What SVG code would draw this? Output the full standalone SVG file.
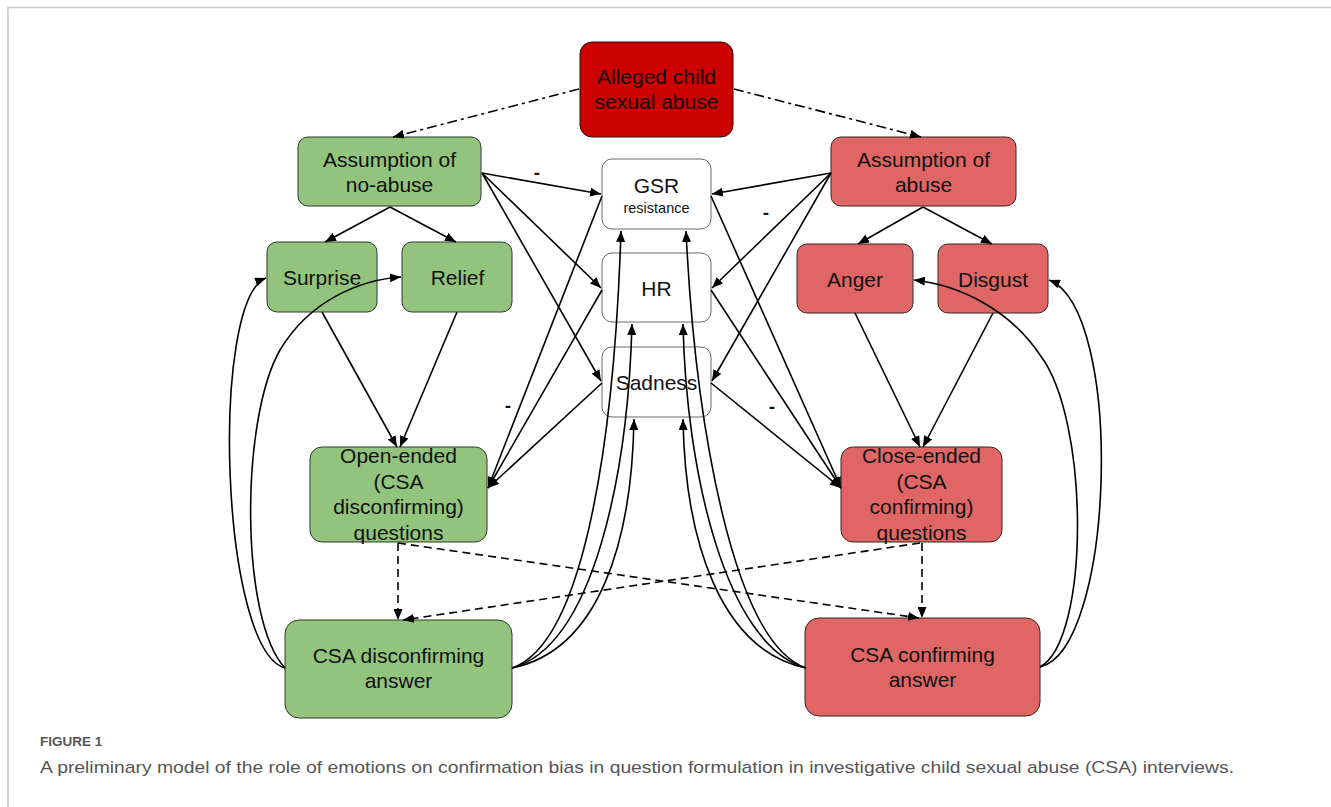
<svg xmlns="http://www.w3.org/2000/svg" width="1331" height="807" viewBox="0 0 1331 807">
<style>
.t{font-family:"Liberation Sans",Arial,sans-serif;font-size:21px;fill:#111;text-anchor:middle}
.s{font-size:14.5px}
.g{fill:#93C47D;stroke:#2f3a2a;stroke-width:1}
.r{fill:#E06666;stroke:#3a2424;stroke-width:1}
.d{fill:#CC0000;stroke:#2a1010;stroke-width:1}
.w{fill:#fff;stroke:#6a6a6a;stroke-width:1}
.e path{fill:none;stroke:#000;stroke-width:1.6;marker-end:url(#ah)}
.e .dash{stroke-dasharray:8 5}
.e .dd{stroke-dasharray:10 4 3 4}
.lbl{font-family:"Liberation Sans",Arial,sans-serif;font-size:19px;font-weight:bold;fill:#111;text-anchor:middle}
.cap{font-family:"Liberation Sans",Arial,sans-serif;fill:#555}
</style>
<defs>
<marker id="ah" markerUnits="userSpaceOnUse" markerWidth="11" markerHeight="9" refX="11" refY="4.5" orient="auto">
<path d="M0,0 L11,4.5 L0,9 z" fill="#000"/>
</marker>
</defs>
<rect width="1331" height="807" fill="#fff"/>
<path d="M8,807 L8,7.5 L1331,7.5" fill="none" stroke="#c8c8c8" stroke-width="1.5"/>

<g id="n-alleged"><rect class="d" x="580" y="42" width="153" height="95" rx="12"/><text class="t" x="656.5" y="84">Alleged child</text><text class="t" x="656.5" y="109">sexual abuse</text></g>
<g id="n-noabuse"><rect class="g" x="298" y="137" width="183" height="69" rx="10"/><text class="t" x="389.5" y="167">Assumption of</text><text class="t" x="389.5" y="192">no-abuse</text></g>
<g id="n-abuse"><rect class="r" x="831" y="137" width="185" height="69" rx="10"/><text class="t" x="923.5" y="167">Assumption of</text><text class="t" x="923.5" y="192">abuse</text></g>
<g id="n-gsr"><rect class="w" x="602" y="159" width="109" height="70" rx="10"/><text class="t" x="656.5" y="193">GSR</text><text class="t s" x="656.5" y="213">resistance</text></g>
<g id="n-hr"><rect class="w" x="602" y="253" width="109" height="69" rx="10"/><text class="t" x="656.5" y="296">HR</text></g>
<g id="n-sadness"><rect class="w" x="602" y="347" width="109" height="70" rx="10"/><text class="t" x="656.5" y="390">Sadness</text></g>
<g id="n-surprise"><rect class="g" x="267" y="242" width="110" height="70" rx="10"/><text class="t" x="322" y="285">Surprise</text></g>
<g id="n-relief"><rect class="g" x="402" y="242" width="110" height="70" rx="10"/><text class="t" x="457.5" y="285">Relief</text></g>
<g id="n-anger"><rect class="r" x="797" y="244" width="116" height="69" rx="10"/><text class="t" x="855" y="287">Anger</text></g>
<g id="n-disgust"><rect class="r" x="938" y="244" width="110" height="69" rx="10"/><text class="t" x="993" y="287">Disgust</text></g>
<g id="n-open"><rect class="g" x="310" y="447" width="177" height="95" rx="12"/><text class="t" x="398.5" y="463">Open-ended</text><text class="t" x="398.5" y="488.5">(CSA</text><text class="t" x="398.5" y="514">disconfirming)</text><text class="t" x="398.5" y="539.5">questions</text></g>
<g id="n-close"><rect class="r" x="841" y="447" width="161" height="95" rx="12"/><text class="t" x="921.5" y="463">Close-ended</text><text class="t" x="921.5" y="488.5">(CSA</text><text class="t" x="921.5" y="514">confirming)</text><text class="t" x="921.5" y="539.5">questions</text></g>
<g id="n-disconf"><rect class="g" x="285" y="620" width="227" height="98" rx="14"/><text class="t" x="398.5" y="663">CSA disconfirming</text><text class="t" x="398.5" y="688">answer</text></g>
<g id="n-conf"><rect class="r" x="805" y="618" width="235" height="98" rx="14"/><text class="t" x="922.5" y="662">CSA confirming</text><text class="t" x="922.5" y="687">answer</text></g>

<g id="connectors" class="e">
<path class="dd" d="M579,89 L393,137"/>
<path class="dd" d="M734,89 L921,137"/>
<path d="M482,173 L601,194"/>
<path d="M482,173 L601,288"/>
<path d="M482,173 L601,381"/>
<path d="M390,207 L325,242"/>
<path d="M390,207 L456,242"/>
<path d="M322,312 L397,447"/>
<path d="M457,312 L400,447"/>
<path d="M602,196 L488,488"/>
<path d="M602,290 L488,488"/>
<path d="M602,383 L488,488"/>
<path d="M831,173 L712,194"/>
<path d="M831,173 L712,288"/>
<path d="M831,173 L712,381"/>
<path d="M923,207 L858,244"/>
<path d="M923,207 L992,244"/>
<path d="M855,313 L920,447"/>
<path d="M993,313 L923,447"/>
<path d="M711,196 L841,488"/>
<path d="M711,290 L841,488"/>
<path d="M711,383 L841,488"/>
<path class="dash" d="M398,543 L398,620"/>
<path class="dash" d="M398,543 L919,618"/>
<path class="dash" d="M922,543 L922,618"/>
<path class="dash" d="M920,543 L403,620"/>
<path d="M512,668 C588,642 615,420 621,231"/>
<path d="M512,668 C595,645 628,470 632,324"/>
<path d="M512,668 C600,650 632,540 634,419"/>
<path d="M806,668 C732,642 695,420 686,231"/>
<path d="M806,668 C725,645 686,470 683,324"/>
<path d="M806,668 C720,650 685,540 683,419"/>
<path d="M285,668 C220,650 210,300 266,278"/>
<path d="M285,668 C240,620 240,420 280,350 C310,300 360,280 401,277"/>
<path d="M1040,667 C1115,650 1125,310 1049,280"/>
<path d="M1040,667 C1090,640 1090,420 1040,355 C1010,310 960,285 914,280"/>
</g>
<g id="labels">
<text class="lbl" x="537" y="179">-</text>
<text class="lbl" x="766" y="219">-</text>
<text class="lbl" x="508" y="412">-</text>
<text class="lbl" x="772" y="413">-</text>
</g>
<text class="cap" x="40" y="746" font-size="13.5" font-weight="bold" fill="#6a6a6a">FIGURE 1</text>
<text class="cap" x="40" y="773" font-size="17" textLength="1194" lengthAdjust="spacingAndGlyphs">A preliminary model of the role of emotions on confirmation bias in question formulation in investigative child sexual abuse (CSA) interviews.</text>
</svg>
